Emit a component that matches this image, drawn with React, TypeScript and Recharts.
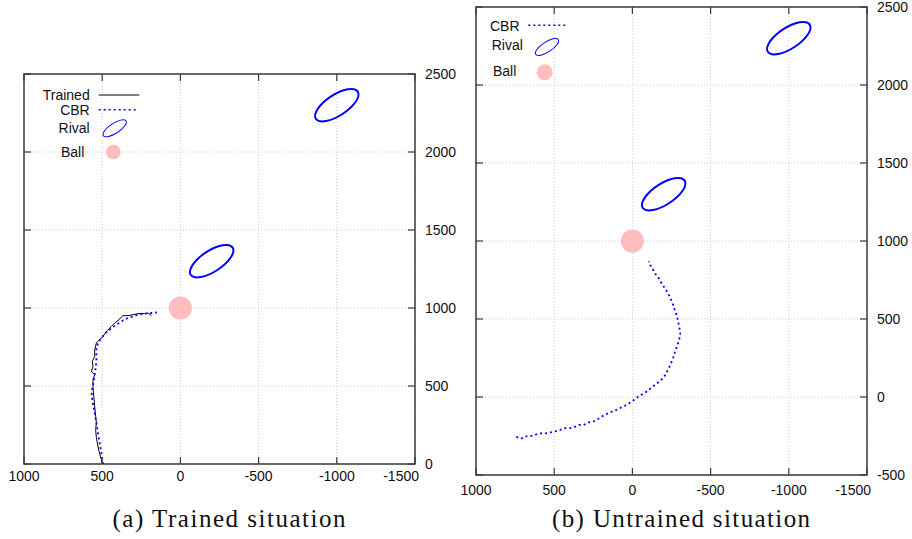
import React from 'react';
import {
  ScatterChart,
  Scatter,
  XAxis,
  YAxis,
  CartesianGrid,
  ReferenceArea,
  Legend,
} from 'recharts';

// ---------------- data ----------------
const xTicks = [1000, 500, 0, -500, -1000, -1500];
const yTicksA = [0, 500, 1000, 1500, 2000, 2500];
const yTicksB = [-500, 0, 500, 1000, 1500, 2000, 2500];

// (a) trained situation: robot path actually trained
const trainedA: [number, number][] = [
  [499, 0], [505, 28], [520, 81], [531, 135], [537, 167], [542, 220], [537, 263],
  [542, 305], [548, 369], [554, 433], [559, 497], [559, 540], [548, 572], [569, 594],
  [559, 626], [563, 658], [548, 690], [548, 733], [537, 776], [516, 797], [495, 818],
  [473, 850], [441, 882], [420, 904], [399, 920], [367, 951], [335, 951], [303, 957],
  [271, 964], [228, 964], [207, 968], [185, 951],
];

// (a) CBR path
const cbrA: [number, number][] = [
  [495, 0], [505, 70], [516, 135], [527, 199], [537, 263], [548, 327], [560, 391],
  [568, 440], [563, 487], [554, 529], [548, 572], [542, 615], [537, 658], [537, 700],
  [537, 737], [527, 776], [505, 808], [478, 840], [452, 861], [425, 882], [399, 899],
  [367, 920], [335, 936], [303, 946], [271, 957], [228, 964], [185, 968], [150, 972],
];

// (b) CBR path in the untrained situation
const cbrB: [number, number][] = [
  [742, -256], [712, -267], [685, -252], [653, -252], [621, -242], [589, -233],
  [557, -233], [525, -227], [493, -220], [461, -211], [429, -199], [397, -199],
  [371, -192], [341, -179], [312, -179], [280, -163], [248, -156], [216, -139],
  [194, -124], [162, -107], [130, -94], [98, -81], [66, -64], [34, -49], [3, -28],
  [-19, -11], [-40, 4], [-68, 21], [-93, 36], [-119, 58], [-146, 79], [-174, 100],
  [-196, 122], [-212, 143], [-225, 171], [-238, 196], [-249, 222], [-260, 250],
  [-270, 282], [-281, 314], [-292, 342], [-300, 372], [-306, 410], [-302, 436],
  [-295, 470], [-289, 500], [-281, 528], [-270, 560], [-260, 592], [-247, 624],
  [-232, 656], [-217, 683], [-200, 709], [-183, 735], [-168, 763], [-146, 790],
  [-132, 816], [-115, 844], [-104, 869],
];

const rivals: [number, number][] = [[-1000, 2300], [-200, 1300]];
const ball: [number, number][] = [[0, 1000]];

const captionA = '(a) Trained situation';
const captionB = '(b) Untrained situation';
const legendA = ['Trained', 'CBR', 'Rival', 'Ball'];
const legendB = ['CBR', 'Rival', 'Ball'];

// ---------------- styles ----------------
const FRAME = '#3a3a3a';
const BLUE = '#0000ff';
const PINK = '#ffbdbd';
const GRID = '#cccccc';
const FONT = '"Liberation Sans", Arial, Helvetica, sans-serif';
const SERIF = '"Liberation Serif", "Times New Roman", serif';

const toPts = (arr: [number, number][]) => arr.map(([x, y]) => ({ x, y }));

const Empty = () => <g />;

const RivalShape = (p: any) => (
  <ellipse
    cx={p.cx}
    cy={p.cy}
    rx={25}
    ry={10.5}
    transform={`rotate(-33 ${p.cx} ${p.cy})`}
    fill="none"
    stroke={BLUE}
    strokeWidth={2}
  />
);

const BallShape = (p: any) => <circle cx={p.cx} cy={p.cy} r={11.5} fill={PINK} />;

type PanelProps = {
  width: number;
  height: number;
  margin: { top: number; right: number; bottom: number; left: number };
  yDomain: [number, number];
  yTicks: number[];
  yAxisWidth: number;
  xLabelDy: number;
  trained?: [number, number][];
  cbr: [number, number][];
  legendNames: string[];
  legendBox: { left: number; top: number; width: number; height: number };
  legendKind: 'a' | 'b';
};

function LegendA({ names }: { names: string[] }) {
  const t = { fontFamily: FONT, fontSize: 14, fill: '#111' };
  return (
    <svg width={120} height={80} style={{ overflow: 'visible', display: 'block' }}>
      <text x={59.7} y={15.3} textAnchor="end" {...t}>{names[0]}</text>
      <line x1={68.7} y1={10} x2={109.3} y2={10} stroke="#000" strokeWidth={1} />
      <text x={59.7} y={30} textAnchor="end" {...t}>{names[1]}</text>
      <line x1={68.7} y1={24.7} x2={107} y2={24.7} stroke={BLUE} strokeWidth={1.6} strokeDasharray="2 3" />
      <text x={59.7} y={48.3} textAnchor="end" {...t}>{names[2]}</text>
      <ellipse cx={84.7} cy={43.3} rx={13.5} ry={5} transform="rotate(-33 84.7 43.3)" fill="none" stroke={BLUE} strokeWidth={1} />
      <text x={54.3} y={71.5} textAnchor="end" {...t}>{names[3]}</text>
      <circle cx={83.3} cy={67} r={7.3} fill={PINK} />
    </svg>
  );
}

function LegendB({ names }: { names: string[] }) {
  const t = { fontFamily: FONT, fontSize: 14, fill: '#111' };
  return (
    <svg width={100} height={75} style={{ overflow: 'visible', display: 'block' }}>
      <text x={10} y={20.7} {...t}>{names[0]}</text>
      <line x1={48.3} y1={15.3} x2={86.7} y2={15.3} stroke={BLUE} strokeWidth={1.6} strokeDasharray="2 3" />
      <text x={11.7} y={40} {...t}>{names[1]}</text>
      <ellipse cx={67} cy={37} rx={13.5} ry={5} transform="rotate(-33 67 37)" fill="none" stroke={BLUE} strokeWidth={1} />
      <text x={13} y={66} {...t}>{names[2]}</text>
      <circle cx={64.7} cy={62.3} r={8} fill={PINK} />
    </svg>
  );
}

function Panel(props: PanelProps) {
  const { width, height, margin, yDomain, yTicks, yAxisWidth, xLabelDy } = props;
  const plotTop = margin.top;
  const plotLeft = margin.left;
  const lastX = xTicks[xTicks.length - 1];

  const XTick = (p: any) => {
    const { x, y, payload } = p;
    const isLast = payload.value === lastX;
    return (
      <g>
        <line x1={x} y1={y} x2={x} y2={y - 7} stroke={FRAME} strokeWidth={1.2} />
        <line x1={x} y1={plotTop} x2={x} y2={plotTop + 7} stroke={FRAME} strokeWidth={1.2} />
        <text
          x={isLast ? x + 4 : x}
          y={y + xLabelDy}
          textAnchor={isLast ? 'end' : 'middle'}
          fontFamily={FONT}
          fontSize={14}
          fill="#111"
        >
          {payload.value}
        </text>
      </g>
    );
  };

  const YTick = (p: any) => {
    const { x, y, payload } = p;
    return (
      <g>
        <line x1={x} y1={y} x2={x - 7} y2={y} stroke={FRAME} strokeWidth={1.2} />
        <line x1={plotLeft} y1={y} x2={plotLeft + 7} y2={y} stroke={FRAME} strokeWidth={1.2} />
        <text x={x + 10} y={y + 5} textAnchor="start" fontFamily={FONT} fontSize={14} fill="#111">
          {payload.value}
        </text>
      </g>
    );
  };

  return (
    <ScatterChart width={width} height={height} margin={margin}>
      <CartesianGrid stroke={GRID} strokeDasharray="1 2" strokeWidth={1} />
      <XAxis
        type="number"
        dataKey="x"
        domain={[-1500, 1000]}
        reversed
        ticks={xTicks}
        interval={0}
        allowDataOverflow
        axisLine={false}
        tickLine={false}
        tickSize={0}
        tickMargin={0}
        height={30}
        tick={XTick}
      />
      <YAxis
        type="number"
        dataKey="y"
        orientation="right"
        domain={yDomain}
        ticks={yTicks}
        interval={0}
        allowDataOverflow
        axisLine={false}
        tickLine={false}
        tickSize={0}
        tickMargin={0}
        width={yAxisWidth}
        tick={YTick}
      />
      <ReferenceArea
        x1={1000}
        x2={-1500}
        y1={yDomain[0]}
        y2={yDomain[1]}
        fill="none"
        fillOpacity={0}
        stroke={FRAME}
        strokeWidth={1.5}
      />
      <Scatter name="Ball" data={toPts(ball)} shape={BallShape} isAnimationActive={false} />
      <Scatter name="Rival" data={toPts(rivals)} shape={RivalShape} isAnimationActive={false} />
      {props.trained && (
        <Scatter
          name="Trained"
          data={toPts(props.trained)}
          shape={Empty}
          line={{ stroke: '#000000', strokeWidth: 1, fill: 'none' }}
          isAnimationActive={false}
        />
      )}
      <Scatter
        name="CBR"
        data={toPts(props.cbr)}
        shape={Empty}
        line={{ stroke: BLUE, strokeWidth: 1.8, strokeDasharray: '2 3', fill: 'none' }}
        isAnimationActive={false}
      />
      <Legend
        layout="horizontal"
        align="center"
        verticalAlign="middle"
        wrapperStyle={{ ...props.legendBox, position: 'absolute' }}
        content={() =>
          props.legendKind === 'a' ? (
            <LegendA names={props.legendNames} />
          ) : (
            <LegendB names={props.legendNames} />
          )
        }
      />
    </ScatterChart>
  );
}

export default function App() {
  return (
    <div
      style={{
        position: 'absolute',
        left: 0,
        top: 0,
        width: 912,
        height: 539,
        background: '#ffffff',
        overflow: 'hidden',
      }}
    >
      <div style={{ position: 'absolute', left: 0, top: 0 }}>
        <Panel
          width={470}
          height={500}
          margin={{ top: 74, right: 5, bottom: 6, left: 24 }}
          yDomain={[0, 2500]}
          yTicks={yTicksA}
          yAxisWidth={50}
          xLabelDy={17}
          trained={trainedA}
          cbr={cbrA}
          legendNames={legendA}
          legendBox={{ left: 30, top: 85, width: 120, height: 80 }}
          legendKind="a"
        />
      </div>
      <div style={{ position: 'absolute', left: 450, top: 0 }}>
        <Panel
          width={462}
          height={520}
          margin={{ top: 7, right: 5, bottom: 15, left: 26 }}
          yDomain={[-500, 2500]}
          yTicks={yTicksB}
          yAxisWidth={40}
          xLabelDy={20}
          cbr={cbrB}
          legendNames={legendB}
          legendBox={{ left: 30, top: 10, width: 100, height: 75 }}
          legendKind="b"
        />
      </div>
      <svg
        width={912}
        height={539}
        style={{ position: 'absolute', left: 0, top: 0, pointerEvents: 'none' }}
      >
        <text
          x={229}
          y={527}
          textAnchor="middle"
          fontFamily={SERIF}
          fontSize={25}
          fill="#111"
          textLength={233}
          lengthAdjust="spacing"
        >
          {captionA}
        </text>
        <text
          x={681}
          y={527}
          textAnchor="middle"
          fontFamily={SERIF}
          fontSize={25}
          fill="#111"
          textLength={258}
          lengthAdjust="spacing"
        >
          {captionB}
        </text>
      </svg>
    </div>
  );
}
